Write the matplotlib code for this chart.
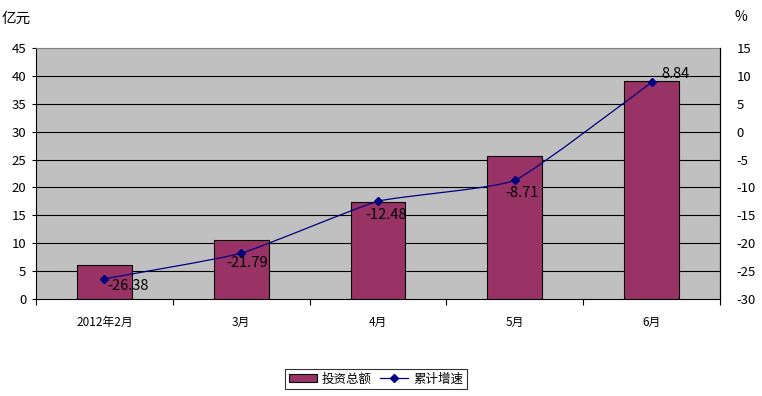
import matplotlib
matplotlib.use("Agg")
import matplotlib.pyplot as plt
from matplotlib.path import Path
from matplotlib.patches import PathPatch, Patch
from matplotlib.lines import Line2D
import numpy as np

plt.rcParams['font.family'] = ['Noto Sans CJK SC', 'DejaVu Sans']

categories = ["2012年2月", "3月", "4月", "5月", "6月"]
investment = [6.1, 10.6, 17.4, 25.6, 39.0]
growth = [-26.38, -21.79, -12.48, -8.71, 8.84]
growth_labels = ["-26.38", "-21.79", "-12.48", "-8.71", "8.84"]
left_ticks = [0, 5, 10, 15, 20, 25, 30, 35, 40, 45]
right_ticks = [-30, -25, -20, -15, -10, -5, 0, 5, 10, 15]

# label offsets in points (style only)
label_offsets = [(17, -5), (4, -7), (6, -10), (5, -9), (17, 6)]

fig = plt.figure(figsize=(7.62, 3.96), dpi=100)
ax = fig.add_axes([36/762, 1-299/396, (720-36)/762, (299-48)/396])
ax.set_facecolor('#C0C0C0')

x = np.arange(len(categories))
ax.bar(x, investment, width=0.40, color='#993366', edgecolor='black', linewidth=0.8, zorder=3)
ax.set_xlim(-0.5, len(categories)-0.5)
ax.set_ylim(0, 45)
ax.set_yticks(left_ticks)
ax.set_yticklabels([str(t) for t in left_ticks], fontsize=9.5)
for t in left_ticks[1:-1]:
    ax.axhline(t, color='black', linewidth=0.8, zorder=1)

ax.set_xticks(x)
ax.set_xticklabels(categories, fontsize=8.5)
ax.set_xticks(np.arange(len(categories)+1)-0.5, minor=True)
ax.tick_params(axis='x', which='major', length=0, pad=12)
ax.tick_params(axis='x', which='minor', length=4, width=0.8, direction='out')
ax.tick_params(axis='y', length=3, width=0.8, pad=4)

for s in ['left', 'bottom']:
    ax.spines[s].set_color('black')
    ax.spines[s].set_linewidth(0.8)
ax.spines['top'].set_color('#808080')
ax.spines['right'].set_color('black')

ax2 = ax.twinx()
ax2.set_ylim(-30, 15)
ax2.set_yticks(right_ticks)
ax2.set_yticklabels([str(t) for t in right_ticks], fontsize=9.5)
ax2.tick_params(axis='y', length=0, pad=12)
for s in ax2.spines.values():
    s.set_visible(False)
ax2.spines['right'].set_visible(True)
ax2.spines['right'].set_color('black')
ax2.spines['right'].set_linewidth(0.8)

# gently smoothed line (low-tension cubic Bezier through the data points)
P = np.column_stack([x, growth]).astype(float)
verts = [tuple(P[0])]
codes = [Path.MOVETO]
n = len(P)
k = 14.0
for i in range(n-1):
    p0 = P[i-1] if i > 0 else P[i]
    p1 = P[i]
    p2 = P[i+1]
    p3 = P[i+2] if i+2 < n else P[i+1]
    c1 = p1 + (p2 - p0) / k
    c2 = p2 - (p3 - p1) / k
    verts += [tuple(c1), tuple(c2), tuple(p2)]
    codes += [Path.CURVE4]*3
ax2.add_patch(PathPatch(Path(verts, codes), facecolor='none', edgecolor='#000080', linewidth=0.9, zorder=4))
ax2.plot(x, growth, linestyle='none', marker='D', markersize=4, color='#000080', zorder=5)

for xi, yi, lab, off in zip(x, growth, growth_labels, label_offsets):
    ax2.annotate(lab, (xi, yi), xytext=off, textcoords='offset points',
                 ha='center', va='center', fontsize=10.5, color='black', zorder=6)

fig.text(2/762, 1-19/396, "亿元", fontsize=10.5, ha='left', va='center')
fig.text(741/762, 1-17/396, "%", fontsize=10, ha='center', va='center')

handles = [Patch(facecolor='#993366', edgecolor='black', linewidth=0.8),
           Line2D([0], [0], color='#000080', marker='D', markersize=4, linewidth=0.9)]
leg = fig.legend(handles, ["投资总额", "累计增速"], loc='center', bbox_to_anchor=(376/762, 1-379/396),
                 ncol=2, fontsize=9, frameon=True, fancybox=False, edgecolor='black',
                 handlelength=2.2, handleheight=0.6, columnspacing=0.7, handletextpad=0.4,
                 borderpad=0.3)
leg.get_frame().set_linewidth(0.8)

fig.savefig("out.png", dpi=100, facecolor='white')
